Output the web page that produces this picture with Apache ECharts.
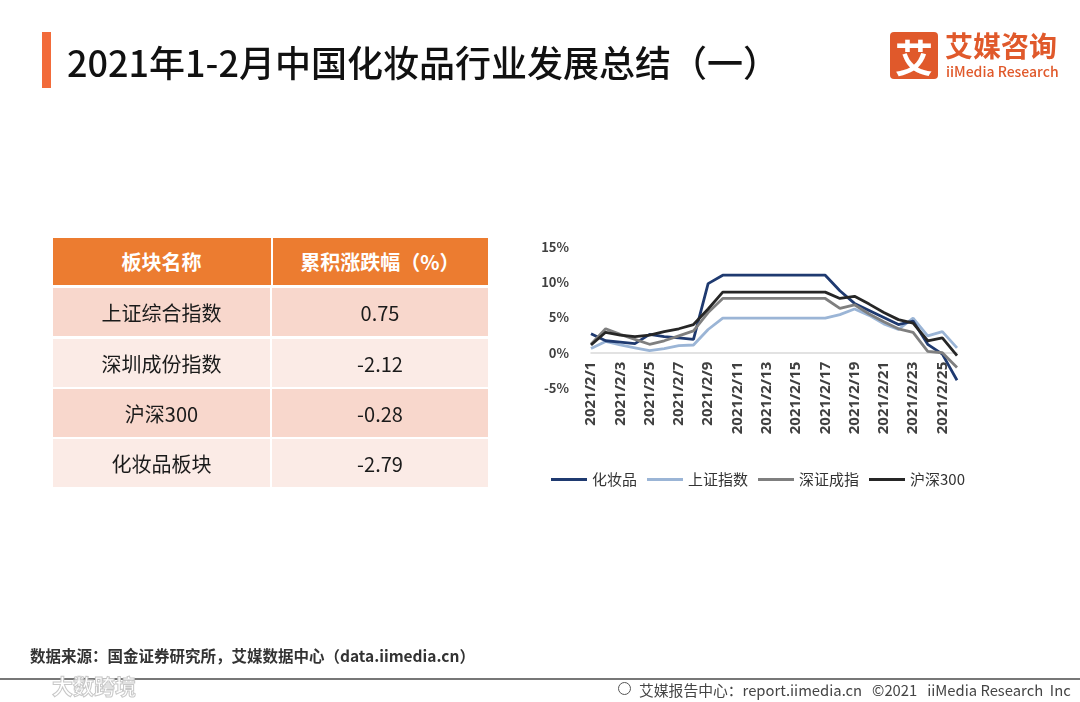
<!DOCTYPE html>
<html><head><meta charset="utf-8">
<script src="https://cdn.jsdelivr.net/npm/echarts@6/dist/echarts.min.js"></script>
<style>
html,body{margin:0;padding:0;background:#fff;width:1080px;height:702px;overflow:hidden;font-family:"Noto Sans CJK SC","Noto Sans",sans-serif}
#c{position:absolute;left:0;top:0;width:1080px;height:702px}
.a{position:absolute;white-space:nowrap}
.mid{display:flex;align-items:center}
#tbl{position:absolute;left:53px;top:238px;width:435px}
.row{position:absolute;left:0;width:435px;height:48px}
.cell{position:absolute;top:0;height:100%;display:flex;align-items:center;justify-content:center;font-size:20px;color:#1a1a1a}
.c1{left:0;width:217px}.c2{left:219px;width:216px}
</style>
</head><body>
<div id="c"></div>
<div class="a" style="left:42px;top:32px;width:9px;height:56px;background:#F26B3A"></div>
<div class="a mid" style="left:67px;top:35px;height:52px;font-size:36px;font-weight:500;color:#111">2021年1-2月中国化妆品行业发展总结（一）</div>
<div class="a mid" style="left:890px;top:32px;width:48px;height:47px;border-radius:4px;background:#E0592B;color:#fff;font-size:38px;font-weight:bold;justify-content:center">艾</div>
<div class="a mid" style="left:945px;top:27px;height:36px;font-size:28px;font-weight:bold;color:#E0592B">艾媒咨询</div>
<div class="a mid" style="left:946px;top:61px;height:20px;font-size:14px;font-weight:500;color:#E0592B">iiMedia Research</div>
<div id="tbl"></div>
<div class="a mid" style="left:30px;top:644px;height:22px;font-size:15.5px;font-weight:bold;color:#333">数据来源：国金证券研究所，艾媒数据中心（data.iimedia.cn）</div>
<div class="a" style="left:0;top:678px;width:1080px;height:1.5px;background:#777"></div>
<div class="a mid" style="left:52px;top:672px;height:26px;font-size:21px;font-weight:bold;color:#fff;-webkit-text-stroke:1px #c8c8c8">大数跨境</div>
<div class="a" style="left:618px;top:682px;width:11px;height:11px;border:1.8px solid #555;border-radius:50%"></div>
<div class="a mid" style="left:639px;top:679px;height:20px;font-size:14.8px;color:#444;white-space:pre">艾媒报告中心：report.iimedia.cn   ©2021   iiMedia Research  Inc</div>
<script>
var dates = ['2021/2/1','2021/2/2','2021/2/3','2021/2/4','2021/2/5','2021/2/6','2021/2/7','2021/2/8','2021/2/9','2021/2/10','2021/2/11','2021/2/12','2021/2/13','2021/2/14','2021/2/15','2021/2/16','2021/2/17','2021/2/18','2021/2/19','2021/2/20','2021/2/21','2021/2/22','2021/2/23','2021/2/24','2021/2/25','2021/2/26'];
var cosmetics = [2.7,1.7,1.5,1.3,2.6,2.3,2.1,1.9,9.8,11.0,11.0,11.0,11.0,11.0,11.0,11.0,11.0,8.8,7.0,6.0,5.0,4.0,4.5,1.2,-0.2,-3.9];
var shanghai  = [0.6,1.6,1.1,0.7,0.3,0.6,1.0,1.1,3.3,4.9,4.9,4.9,4.9,4.9,4.9,4.9,4.9,5.4,6.2,5.3,4.1,3.3,4.9,2.4,3.0,0.7];
var shenzhen  = [1.2,3.4,2.6,1.9,1.2,1.7,2.4,3.1,5.7,7.7,7.7,7.7,7.7,7.7,7.7,7.7,7.7,6.3,6.8,5.5,4.4,3.4,2.9,0.2,0.0,-2.1];
var hs300     = [1.1,2.9,2.5,2.3,2.5,3.0,3.4,4.0,6.2,8.6,8.6,8.6,8.6,8.6,8.6,8.6,8.6,7.7,8.0,6.9,5.7,4.7,4.2,1.7,2.1,-0.4];
var seriesNames = ['化妆品','上证指数','深证成指','沪深300'];
var seriesColors = ['#1F3A70','#9BB5D6','#7F7F7F','#262626'];
var tableHead = ['板块名称','累积涨跌幅（%）'];
var tableNames = ['上证综合指数','深圳成份指数','沪深300','化妆品板块'];
var tableValues = ['0.75','-2.12','-0.28','-2.79'];

// table
var tbl = document.getElementById('tbl');
var html = '<div class="row" style="top:0;height:47px;background:#EC7C30">'+
  '<div class="cell c1" style="color:#fff;font-weight:bold">'+tableHead[0]+'</div>'+
  '<div class="a" style="left:218px;top:0;width:2px;height:47px;background:#fff"></div>'+
  '<div class="cell c2" style="color:#fff;font-weight:bold">'+tableHead[1]+'</div></div>';
var rowTops=[50,101,151,201];
for (var i=0;i<tableNames.length;i++){
  var col = i%2===0 ? '#F8D7CC' : '#FBEBE6';
  html += '<div class="row" style="top:'+rowTops[i]+'px">'+
    '<div class="cell c1" style="background:'+col+'">'+tableNames[i]+'</div>'+
    '<div class="cell c2" style="background:'+col+'">'+tableValues[i]+'</div></div>';
}
tbl.innerHTML = html;

var FONT = '"Noto Sans CJK SC","Noto Sans",sans-serif';
var chart = echarts.init(document.getElementById('c'));
var dataSets=[cosmetics,shanghai,shenzhen,hs300];
var zs=[3,2,4,5];
var series = [];
for (var j=0;j<seriesNames.length;j++){
  series.push({name:seriesNames[j],type:'line',data:dataSets[j],symbol:'none',
    lineStyle:{width:2.8,color:seriesColors[j]},itemStyle:{color:seriesColors[j]},z:zs[j]});
}
chart.setOption({
  animation:false,
  legend:{left:546,top:467,itemWidth:36,itemHeight:3,itemGap:10,icon:'rect',
    textStyle:{fontSize:15,color:'#333',fontFamily:FONT},data:seriesNames},
  grid:{left:591,right:123,top:247,bottom:314},
  xAxis:{type:'category',data:dates,boundaryGap:false,
    offset:-35.25,
    axisLine:{onZero:false,lineStyle:{color:'#D9D9D9',width:1.5}},
    axisTick:{show:false},
    axisLabel:{interval:1,rotate:90,fontSize:15,fontWeight:'bold',color:'#404040',margin:9,fontFamily:'"Noto Sans",sans-serif'}},
  yAxis:{type:'value',min:-5,max:15,interval:5,
    axisLine:{show:false},axisTick:{show:false},splitLine:{show:false},
    axisLabel:{formatter:'{value}%',fontSize:13,fontWeight:'bold',color:'#404040',margin:22,fontFamily:FONT}},
  series:series
});
</script></body></html>
